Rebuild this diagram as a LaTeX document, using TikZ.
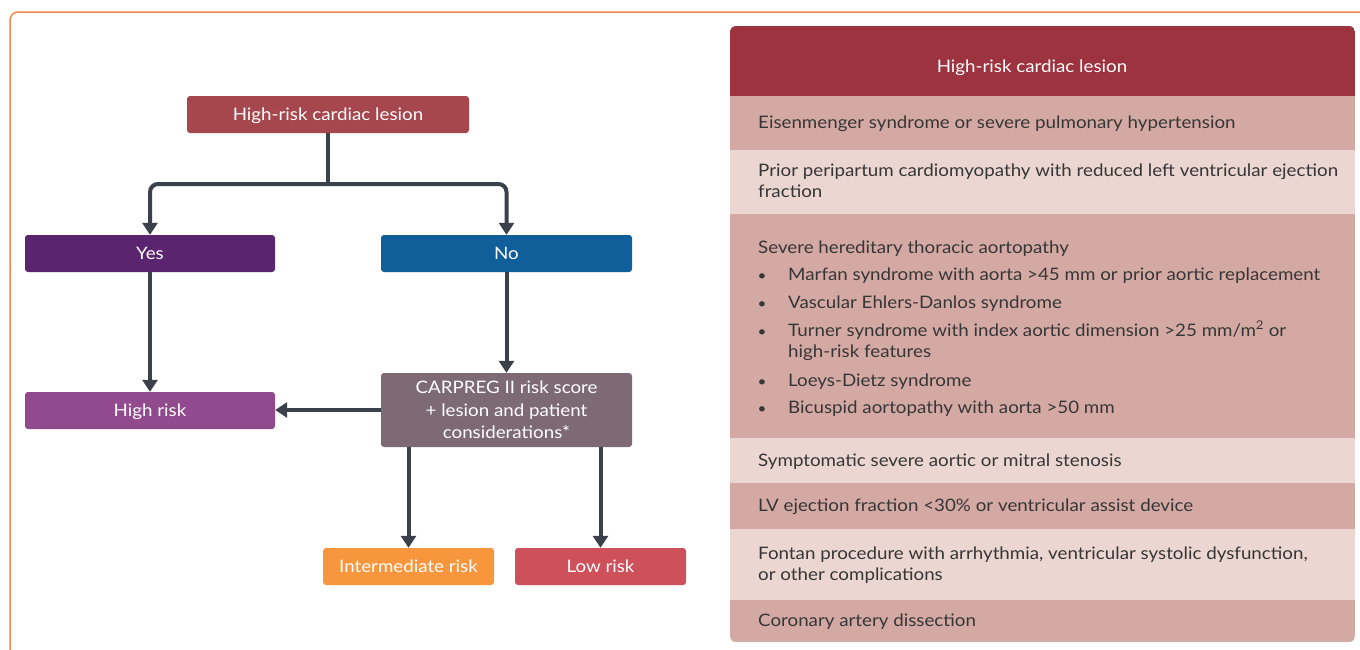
\documentclass[tikz,border=0pt]{standalone}
\usepackage{fontspec}
\setmainfont{Lato}[FakeStretch=1.09]
\usetikzlibrary{arrows.meta}
\definecolor{frame}{HTML}{EE8A4E}
\definecolor{conn}{HTML}{3B414B}
\definecolor{ctop}{HTML}{A6474E}
\definecolor{cyes}{HTML}{5A246E}
\definecolor{cno}{HTML}{105E9A}
\definecolor{chigh}{HTML}{914A8E}
\definecolor{ccarp}{HTML}{7E6A75}
\definecolor{cint}{HTML}{F7963C}
\definecolor{clow}{HTML}{CD505A}
\definecolor{thead}{HTML}{9E3340}
\definecolor{tdark}{HTML}{D4A9A3}
\definecolor{tlight}{HTML}{EBD6D1}
\definecolor{ttext}{HTML}{363636}
\tikzset{
  fbox/.style={rounded corners=3pt, text=white, inner sep=0pt, align=center,
    font=\fontsize{17.2}{22.5}\selectfont},
  oneline/.style={text height=12.3pt, text depth=0pt},
  link/.style={line width=4pt, draw=conn},
  arr/.style={link, -{Triangle[length=12pt,width=15pt]}},
  tx/.style={inner sep=0pt, text=ttext, align=left, anchor=base west, font=\fontsize{17.2}{21.6}\selectfont},
  bul/.style={inner sep=0pt, text=ttext, anchor=base, font=\fontsize{14}{21}\selectfont},
}
\begin{document}
\begin{tikzpicture}[x=1pt,y=-1pt]
\useasboundingbox (0,0) rectangle (1360,649);
\clip (0,0) rectangle (1360,649);
\fill[white] (0,0) rectangle (1360,649);
% frame
\draw[frame, line width=1.5pt, rounded corners=8pt] (10,670) -- (10,12) -- (1380,12);

% flowchart
\node[fbox, oneline, fill=ctop, minimum width=282pt, minimum height=37pt] (top) at (328,114.5) {High-risk cardiac lesion};
\node[fbox, oneline, fill=cyes, minimum width=250pt, minimum height=37pt] (yes) at (150,253.5) {Yes};
\node[fbox, oneline, fill=cno, minimum width=251pt, minimum height=37pt] (no) at (506.5,253.5) {No};
\node[fbox, oneline, fill=chigh, minimum width=250pt, minimum height=37pt] (high) at (150,410.5) {High risk};
\node[fbox, fill=ccarp, minimum width=251pt, minimum height=74pt] (carp) at (506.5,410) {CARPREG II risk score\\+ lesion and patient\\considerations*};
\node[fbox, oneline, fill=cint, minimum width=171pt, minimum height=37pt] (inter) at (408.5,566.5) {Intermediate risk};
\node[fbox, oneline, fill=clow, minimum width=171pt, minimum height=37pt] (low) at (600.5,566.5) {Low risk};

\coordinate (j) at (328,184);
\draw[link] (top.south) -- (j);
\draw[arr, rounded corners=8pt] (j) -| (yes.north);
\draw[arr, rounded corners=8pt] (j) -| (no.north);
\draw[arr] (yes.south) -- (high.north);
\draw[arr] (no.south) -- (carp.north);
\draw[arr] (carp.west) -- (carp.west -| high.east);
\draw[arr] (carp.south -| inter.north) -- (inter.north);
\draw[arr] (carp.south -| low.north) -- (low.north);

% table
\begin{scope}
\clip[rounded corners=6pt] (730,26) rectangle (1355,642);
\fill[thead] (730,26) rectangle (1355,96);
\fill[tdark] (730,96) rectangle (1355,150);
\fill[tlight] (730,150) rectangle (1355,214);
\fill[tdark] (730,214) rectangle (1355,438);
\fill[tlight] (730,438) rectangle (1355,483);
\fill[tdark] (730,483) rectangle (1355,529);
\fill[tlight] (730,529) rectangle (1355,600);
\fill[tdark] (730,600) rectangle (1355,642);
\end{scope}

\node[inner sep=0pt, text=white, font=\fontsize{17.2}{22}\selectfont, anchor=base] (th) at (1032,72) {High-risk cardiac lesion};
\node[tx] (r1) at (758,128.3) {Eisenmenger syndrome or severe pulmonary hypertension};
\node[tx] (r2) at (758,197.7) {Prior peripartum cardiomyopathy with reduced left ventricular ejection\\fraction};
\node[tx] (r3) at (758,253.3) {Severe hereditary thoracic aortopathy};
\node[bul] (b1) at (762,280.7) {•};
\node[tx] (i1) at (788,280.7) {Marfan syndrome with aorta >45 mm or prior aortic replacement};
\node[bul] (b2) at (762,308.3) {•};
\node[tx] (i2) at (788,308.3) {Vascular Ehlers-Danlos syndrome};
\node[bul] (b3) at (762,336) {•};
\node[tx] (i3) at (788,357.7) {Turner syndrome with index aortic dimension >25 mm/m\textsuperscript{2} or\\high-risk features};
\node[bul] (b4) at (762,386) {•};
\node[tx] (i4) at (788,386) {Loeys-Dietz syndrome};
\node[bul] (b5) at (762,413.3) {•};
\node[tx] (i5) at (788,413.3) {Bicuspid aortopathy with aorta >50 mm};
\node[tx] (r4) at (758,466) {Symptomatic severe aortic or mitral stenosis};
\node[tx] (r5) at (758,511.7) {LV ejection fraction <30\% or ventricular assist device};
\node[tx] (r6) at (758,580.7) {Fontan procedure with arrhythmia, ventricular systolic dysfunction,\\or other complications};
\node[tx] (r7) at (758,626) {Coronary artery dissection};
\end{tikzpicture}
\end{document}
